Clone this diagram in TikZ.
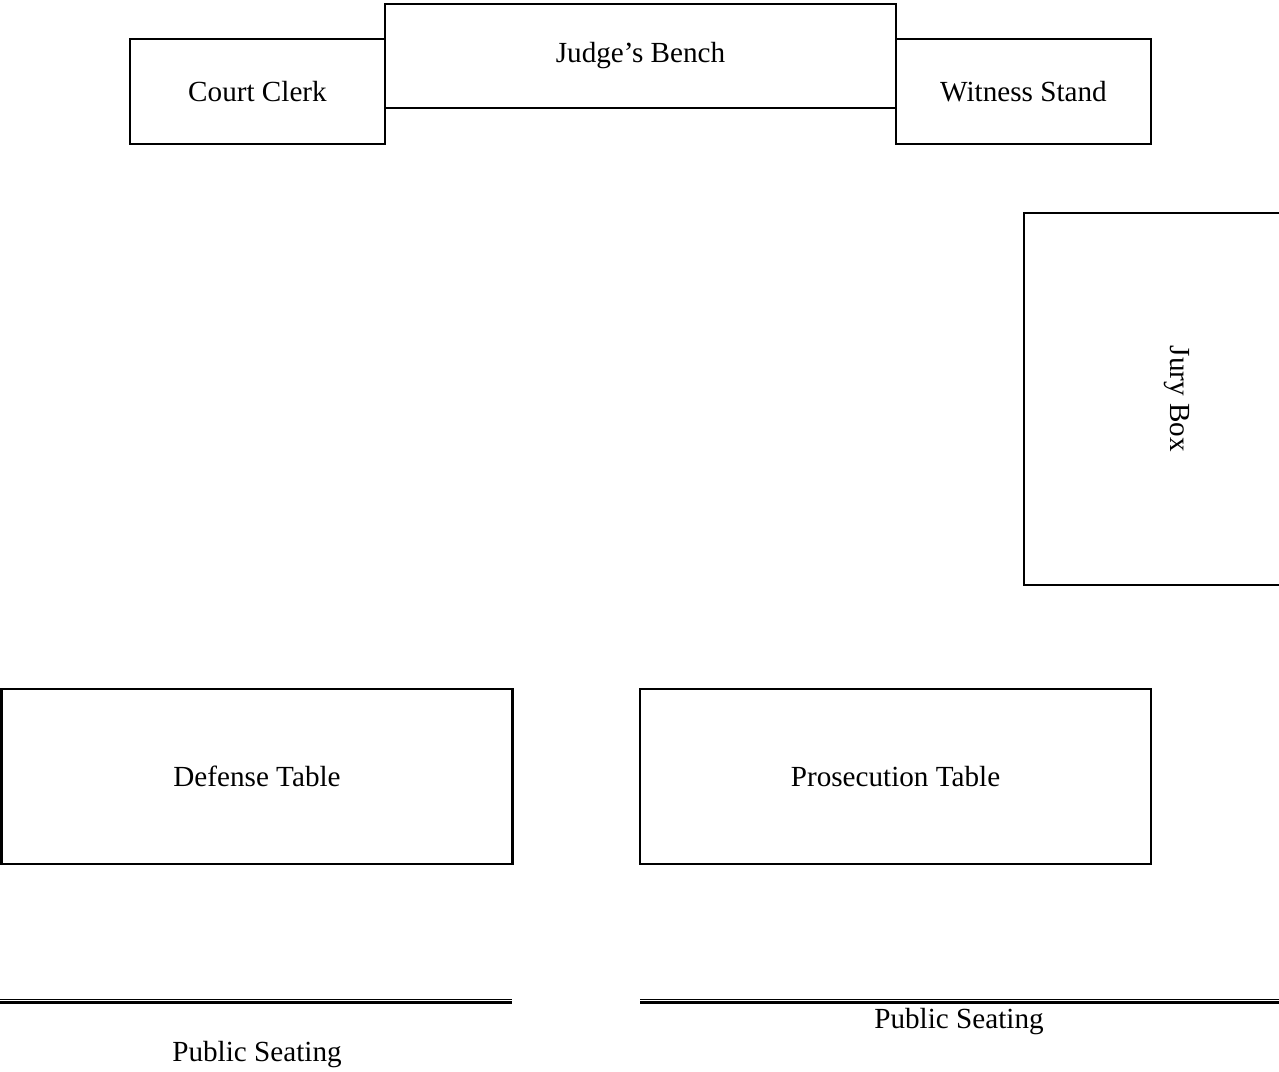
\documentclass[tikz,border=0pt]{standalone}
\usepackage{fontspec}
\setmainfont{Liberation Serif}
\tikzset{
  furniture/.style={draw, line width=1.2pt, font=\fontsize{16.6}{20}\selectfont},
  seating/.style={font=\fontsize{16.6}{20}\selectfont}
}
\begin{document}
\begin{tikzpicture}[x=0.02cm, y=-0.02cm]
\clip (0,0) rectangle (1279,1072);
% bench row
\node[furniture, minimum width=5.1cm, minimum height=2.1cm] (clerk) at (257.5,91.5) {Court Clerk};
\node[furniture, minimum width=5.1cm, minimum height=2.1cm] (witness) at (1023.5,91.5) {Witness Stand};
\node[furniture, fill=white, minimum width=10.22cm, minimum height=2.08cm] (bench) at (640.5,56) {Judge’s Bench};
% jury box, cut by the page edge
\node[furniture, minimum width=6.12cm, minimum height=7.44cm] (jury) at (1177,399) {};
\node[rotate=-90, font=\fontsize{16.6}{20}\selectfont] (jurytext) at (jury.center) {Jury Box};
% counsel tables
\node[furniture, minimum width=10.22cm, minimum height=3.5cm] (defense) at (257,776.5) {Defense Table};
\node[furniture, minimum width=10.22cm, minimum height=3.5cm] (prosecution) at (895.5,776.5) {Prosecution Table};
% railing
\coordinate (railLa) at (0,1000);
\coordinate (railLb) at (512,1000);
\coordinate (railRa) at (640,1000);
\coordinate (railRb) at (1290,1000);
\foreach \a/\b in {railLa/railLb, railRa/railRb} {
  \draw[line width=0.9pt] ([yshift=0.2pt]\a) -- ([yshift=0.2pt]\b);
  \draw[line width=1.7pt] ([yshift=-1.6pt]\a) -- ([yshift=-1.6pt]\b);
}
\node[seating] (seatL) at (257,1055) {Public Seating};
\node[seating] (seatR) at (959,1022) {Public Seating};
\end{tikzpicture}
\end{document}
